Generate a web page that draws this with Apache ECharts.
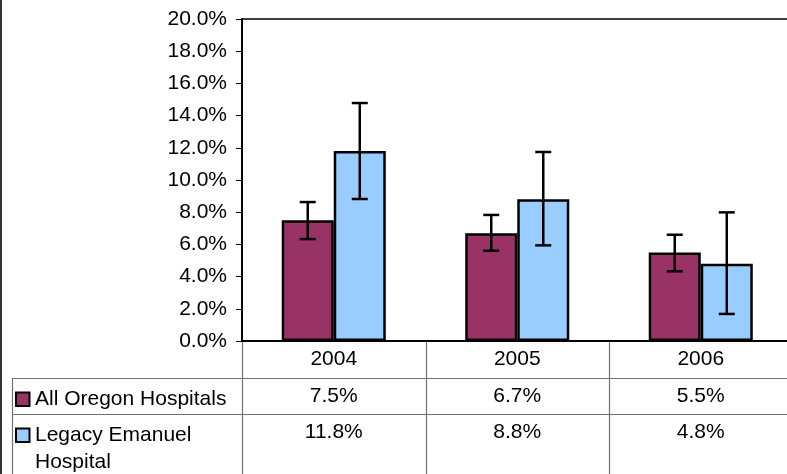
<!DOCTYPE html>
<html><head><meta charset="utf-8">
<script src="https://cdn.jsdelivr.net/npm/echarts@6/dist/echarts.min.js"></script>
<style>html,body{margin:0;padding:0;background:#fff;overflow:hidden}#c{width:793px;height:474px}</style>
</head><body><div id="c"></div>
<script>
const categories = ['2004', '2005', '2006'];
const seriesNames = ['All Oregon Hospitals', 'Legacy Emanuel\nHospital'];
const oregonValues = [7.5, 6.7, 5.5];
const emanuelValues = [11.8, 8.8, 4.8];
const oregonLow = [6.33, 5.61, 4.33];
const oregonHigh = [8.63, 7.83, 6.60];
const emanuelLow = [8.82, 5.94, 1.68];
const emanuelHigh = [14.78, 11.74, 7.99];
const oregonLabels = ['7.5%', '6.7%', '5.5%'];
const emanuelLabels = ['11.8%', '8.8%', '4.8%'];

const COLORS = ['#993366', '#99CCFF'];
const FONT = "'Liberation Sans', Arial, sans-serif";
const FS = 21;
const GAP = 0.433;
const GRID = {left: 242, top: 19, right: 0.5, height: 322};

const chart = echarts.init(document.getElementById('c'), null, {renderer: 'canvas'});

function errRender(sign) {
  return function (params, api) {
    const c = api.value(0);
    const lo = api.coord([c, api.value(1)]);
    const hi = api.coord([c, api.value(2)]);
    const band = api.size([1, 0])[0];
    const bw = band * (1 - GAP) / 2;
    const x = lo[0] + sign * bw / 2;
    const cap = 8;
    const st = {stroke: '#000', lineWidth: 2.5};
    return {type: 'group', children: [
      {type: 'line', shape: {x1: x, y1: hi[1], x2: x, y2: lo[1]}, style: st},
      {type: 'line', shape: {x1: x - cap, y1: hi[1], x2: x + cap, y2: hi[1]}, style: st},
      {type: 'line', shape: {x1: x - cap, y1: lo[1], x2: x + cap, y2: lo[1]}, style: st}
    ]};
  };
}

chart.setOption({
  animation: false,
  backgroundColor: '#fff',
  textStyle: {fontFamily: FONT},
  grid: Object.assign({show: true, borderColor: '#000', borderWidth: 1.5, backgroundColor: 'transparent'}, GRID),
  xAxis: {
    type: 'category', data: categories,
    axisLine: {lineStyle: {color: '#000', width: 2}},
    axisTick: {show: false},
    axisLabel: {color: '#000', fontSize: FS, fontFamily: FONT, margin: 8}
  },
  yAxis: {
    type: 'value', min: 0, max: 20, interval: 2,
    axisLine: {show: true, lineStyle: {color: '#000', width: 2}},
    axisTick: {show: true, length: 6, lineStyle: {color: '#000'}},
    splitLine: {show: false},
    axisLabel: {color: '#000', fontSize: FS, fontFamily: FONT, margin: 15,
      formatter: v => v.toFixed(1) + '%'}
  },
  series: [
    {name: seriesNames[0], type: 'bar', data: oregonValues, barGap: '0%', barCategoryGap: (GAP * 100) + '%',
      itemStyle: {color: COLORS[0], borderColor: '#000', borderWidth: 2.5}},
    {name: seriesNames[1], type: 'bar', data: emanuelValues, barGap: '0%', barCategoryGap: (GAP * 100) + '%',
      itemStyle: {color: COLORS[1], borderColor: '#000', borderWidth: 2.5}},
    {type: 'custom', renderItem: errRender(-1), z: 10, encode: {x: 0, y: [1, 2]},
      data: categories.map((c, i) => [i, oregonLow[i], oregonHigh[i]])},
    {type: 'custom', renderItem: errRender(1), z: 10, encode: {x: 0, y: [1, 2]},
      data: categories.map((c, i) => [i, emanuelLow[i], emanuelHigh[i]])}
  ]
});

// Data table below the chart
const W = 793, H = 474;
const axisY = chart.convertToPixel({yAxisIndex: 0}, 0);
const centers = categories.map((c, i) => chart.convertToPixel({xAxisIndex: 0}, i));
const band = centers.length > 1 ? centers[1] - centers[0] : 550;
const row1 = 378, row2 = 414, tableLeft = 12;
const g = [];
const lineStyle = {stroke: '#707070', lineWidth: 1.2};
g.push({type: 'line', shape: {x1: 1, y1: 0, x2: 1, y2: H}, style: {stroke: '#333', lineWidth: 2}});
[row1, row2].forEach(y => g.push({type: 'line', shape: {x1: tableLeft, y1: y + 0.5, x2: W, y2: y + 0.5}, style: lineStyle}));
g.push({type: 'line', shape: {x1: tableLeft + 0.5, y1: row1, x2: tableLeft + 0.5, y2: H}, style: lineStyle});
centers.forEach((cx, i) => {
  const xl = Math.round(cx - band / 2) + 0.5;
  g.push({type: 'line', shape: {x1: xl, y1: axisY + 1, x2: xl, y2: H}, style: lineStyle});
});
const rowsY = [row1, row2];
[oregonLabels, emanuelLabels].forEach((labels, r) => {
  const top = rowsY[r];
  g.push({type: 'rect', shape: {x: 16, y: top + 14.5, width: 13.5, height: 13.5},
    style: {fill: COLORS[r], stroke: '#000', lineWidth: 2}});
  g.push({type: 'text', x: 35, y: top + 8,
    style: {text: seriesNames[r], fill: '#000', font: FS + 'px ' + FONT, lineHeight: 27, verticalAlign: 'top'}});
  labels.forEach((t, i) => {
    g.push({type: 'text', x: centers[i], y: top + 8,
      style: {text: t, fill: '#000', font: FS + 'px ' + FONT, align: 'center', verticalAlign: 'top'}});
  });
});
chart.setOption({graphic: g});
</script></body></html>
